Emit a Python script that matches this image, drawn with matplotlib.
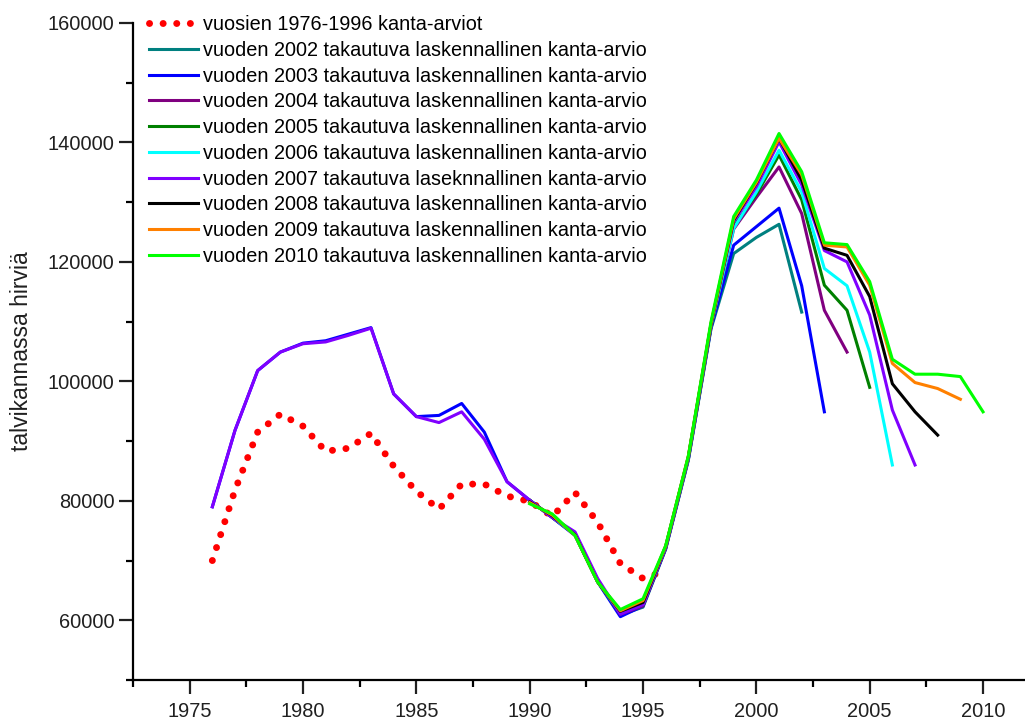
import matplotlib.pyplot as plt
from matplotlib.ticker import MultipleLocator

plt.rcParams['font.family'] = ['Liberation Sans', 'DejaVu Sans']

# vuosien 1976-1996 kanta-arviot
years_old = list(range(1976, 1997))
est_old = [70000, 81800, 91500, 94500, 92500, 88300, 88800, 91300, 85800, 81600,
           78600, 82800, 82800, 80800, 79900, 77400, 81400, 76400, 69500, 67000, 68300]

# takautuvat laskennalliset kanta-arviot
years_long = list(range(1976, 2004))
est_2003 = [79000, 91800, 101800, 104900, 106400, 106800, 107900, 109000, 97900, 94100,
            94300, 96300, 91500, 83200, 80100, 77200, 74200, 66400, 60600, 62400,
            72000, 87000, 109000, 122800, 125900, 129000, 116000, 94900]

years_2007 = list(range(1976, 2008))
est_2007 = [79000, 91800, 101800, 104900, 106300, 106600, 107700, 108900, 97900, 94100,
            93100, 94900, 90300, 83200, 80100, 77200, 74800, 67000, 61000, 62600,
            72200, 87300, 109500, 126700, 132600, 140100, 132900, 121900, 120000, 111100,
            95200, 86000]

years_2002 = list(range(1990, 2003))
est_2002 = [80100, 77200, 74300, 66500, 60900, 62200, 71900, 86800, 108800, 121400,
            124100, 126300, 111600]

years_2004 = list(range(1990, 2005))
est_2004 = [80100, 77200, 74400, 66600, 61000, 62400, 72100, 87000, 109200, 125500,
            130800, 135900, 128100, 111900, 104900]

years_2005 = list(range(1990, 2006))
est_2005 = [80100, 77300, 74400, 66500, 61100, 62600, 72200, 87200, 109300, 126000,
            131300, 137900, 130400, 116100, 111900, 99000]

years_2006 = list(range(1990, 2007))
est_2006 = [80000, 77300, 74300, 66500, 61200, 62700, 72300, 87200, 109400, 125600,
            131700, 138700, 131700, 118900, 116000, 104900, 86000]

years_2008 = list(range(1990, 2009))
est_2008 = [79800, 77500, 74300, 66400, 61500, 63000, 72400, 87400, 109600, 127000,
            133200, 140700, 133700, 122300, 121100, 114200, 99600, 94900, 91000]

years_2009 = list(range(1990, 2010))
est_2009 = [79700, 77600, 74200, 66400, 61600, 63300, 72400, 87500, 109700, 127200,
            133300, 140700, 134600, 122800, 122500, 116100, 103000, 99800, 98800, 97000]

years_2010 = list(range(1990, 2011))
est_2010 = [79500, 77800, 74200, 66400, 61800, 63600, 72500, 87500, 110000, 127600,
            133700, 141500, 135100, 123200, 122900, 116700, 103700, 101200, 101200, 100800,
            94900]

series = [
    (years_2002, est_2002, '#008080', 'vuoden 2002 takautuva laskennallinen kanta-arvio'),
    (years_long, est_2003, '#0000ff', 'vuoden 2003 takautuva laskennallinen kanta-arvio'),
    (years_2004, est_2004, '#800080', 'vuoden 2004 takautuva laskennallinen kanta-arvio'),
    (years_2005, est_2005, '#008000', 'vuoden 2005 takautuva laskennallinen kanta-arvio'),
    (years_2006, est_2006, '#00ffff', 'vuoden 2006 takautuva laskennallinen kanta-arvio'),
    (years_2007, est_2007, '#8000ff', 'vuoden 2007 takautuva laseknnallinen kanta-arvio'),
    (years_2008, est_2008, '#000000', 'vuoden 2008 takautuva laskennallinen kanta-arvio'),
    (years_2009, est_2009, '#ff8000', 'vuoden 2009 takautuva laskennallinen kanta-arvio'),
    (years_2010, est_2010, '#00ff00', 'vuoden 2010 takautuva laskennallinen kanta-arvio'),
]

fig = plt.figure(figsize=(10.25, 7.2), dpi=100)
ax = fig.add_axes([133 / 1025, 40 / 720, 906.7 / 1025, 657 / 720])

ax.plot(years_old, est_old, color='#ff0000', lw=5, linestyle=(0, (0.01, 1.95)),
        dash_capstyle='round', label='vuosien 1976-1996 kanta-arviot', zorder=1)
for yrs, vals, col, lab in series:
    ax.plot(yrs, vals, color=col, lw=2.2, label=lab)

ax.set_xlim(1972.5, 2012.5)
ax.set_ylim(50000, 160000)
ax.xaxis.set_major_locator(MultipleLocator(5))
ax.xaxis.set_minor_locator(MultipleLocator(2.5))
ax.yaxis.set_major_locator(MultipleLocator(20000))
ax.yaxis.set_minor_locator(MultipleLocator(10000))

for side in ['top', 'right']:
    ax.spines[side].set_visible(False)
for side in ['left', 'bottom']:
    ax.spines[side].set_linewidth(1.6)
ax.tick_params(which='major', direction='out', length=10, width=1.6, labelsize=14.4,
               colors='#202020')
ax.tick_params(which='minor', direction='out', length=5, width=1.6)
ax.tick_params(axis='x', pad=6)

ax.set_ylabel('talvikannassa hirviä', fontsize=16.5, color='#202020', labelpad=10)

ax.legend(loc='upper left', bbox_to_anchor=(149 / 1025, 1 - 15 / 720),
          bbox_transform=fig.transFigure, frameon=False, fontsize=14.3,
          handlelength=2.47, handletextpad=0.25, labelspacing=0.34, borderpad=0,
          borderaxespad=0)

fig.savefig('out.png', dpi=100)
